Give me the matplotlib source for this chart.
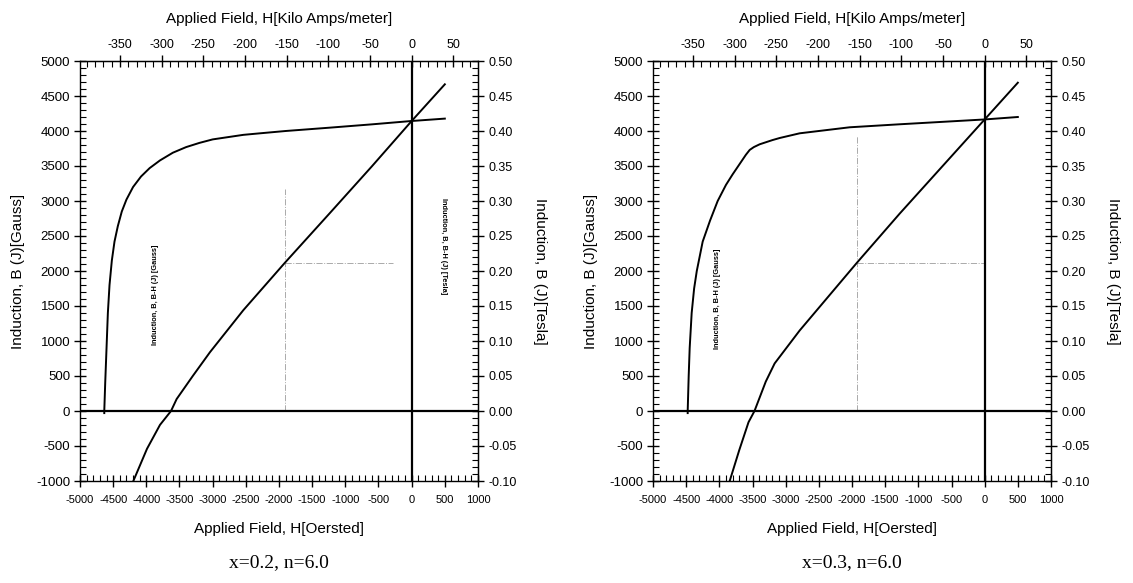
import numpy as np
import matplotlib
matplotlib.use("Agg")
from matplotlib import pyplot as plt
from matplotlib.ticker import MultipleLocator, FormatStrFormatter

plt.rcParams['font.family'] = ['Liberation Sans', 'DejaVu Sans']
plt.rcParams['axes.unicode_minus'] = False

# x=0.2, n=6.0  (H in Oersted, B/J in Gauss)
h_j_a = [-4634, -4634, -4620, -4600, -4580, -4555, -4520, -4480, -4430, -4370, -4300,
         -4200, -4080, -3950, -3794, -3600, -3400, -3200, -3000, -2538, -2286, -1900,
         -1231, -600, 0, 500]
j_a = [-30, 0, 400, 900, 1400, 1800, 2150, 2420, 2640, 2850, 3020,
       3200, 3350, 3470, 3580, 3690, 3770, 3830, 3880, 3945, 3967, 4000,
       4048, 4095, 4143, 4177]
h_bh_a = [-4196, -3990, -3794, -3628, -3543, -3300, -3040, -2538, -1909, -1231, -600, 0, 500]
b_bh_a = [-1000, -540, -198, 0, 171, 500, 841, 1440, 2120, 2830, 3495, 4143, 4667]
bhmax_a = (-1909, 2120)
hline_end_a = -283
vline_top_a = 3170

# x=0.3, n=6.0
h_j_b = [-4477, -4477, -4462, -4447, -4417, -4380, -4340, -4251, -4140, -4025,
         -3900, -3800, -3700, -3600, -3542, -3480, -3392, -3200, -3090, -2789,
         -2035, -1281, 0, 500]
j_b = [-30, 0, 500, 900, 1400, 1750, 2000, 2420, 2720, 3000,
       3230, 3380, 3520, 3660, 3730, 3770, 3810, 3870, 3900, 3967,
       4053, 4096, 4165, 4200]
h_bh_b = [-3844, -3700, -3560, -3470, -3300, -3166, -2789, -1924, -1281, 0, 500]
b_bh_b = [-1000, -560, -160, 0, 420, 680, 1150, 2120, 2820, 4165, 4690]
bhmax_b = (-1924, 2120)
hline_end_b = 0
vline_top_b = 3930

captions = ["x=0.2, n=6.0", "x=0.3, n=6.0"]

OE_TO_KA = 1.0 / (4 * np.pi)   # 1 Oe = 79.58 A/m
G_TO_T = 1e-4


def draw_panel(ax, h_j, j, h_bh, b_bh, bhmax, hline_end, vline_top,
               gauss_pos, tesla_pos):
    ax.set_xlim(-5000, 1000)
    ax.set_ylim(-1000, 5000)

    # zero axes
    ax.axhline(0, color='black', lw=1.6, zorder=3)
    ax.axvline(0, color='black', lw=1.6, zorder=3)

    # BHmax guide lines
    ax.plot([bhmax[0], bhmax[0]], [0, vline_top], color='#aaaaaa', lw=0.7, ls='-.')
    ax.plot([bhmax[0], hline_end], [bhmax[1], bhmax[1]], color='#aaaaaa', lw=0.7, ls='-.')

    ax.plot(h_j, j, color='black', lw=1.4, zorder=4)
    ax.plot(h_bh, b_bh, color='black', lw=1.4, zorder=4)

    ax.xaxis.set_major_locator(MultipleLocator(500))
    ax.xaxis.set_minor_locator(MultipleLocator(100))
    ax.yaxis.set_major_locator(MultipleLocator(500))
    ax.yaxis.set_minor_locator(MultipleLocator(100))
    ax.tick_params(which='major', direction='inout', length=8, width=1)
    ax.tick_params(which='minor', direction='in', length=4, width=0.8)
    ax.tick_params(axis='x', labelsize=8, pad=6)
    ax.tick_params(axis='y', labelsize=9.5, pad=3)
    ax.tick_params(top=False, right=False)
    for s in ax.spines.values():
        s.set_linewidth(1.0)

    ax.set_xlabel("Applied Field, H[Oersted]", fontsize=11, labelpad=12)
    ax.set_ylabel("Induction, B (J)[Gauss]", fontsize=11, labelpad=8)

    top = ax.secondary_xaxis('top', functions=(lambda x: x * OE_TO_KA, lambda x: x / OE_TO_KA))
    top.xaxis.set_major_locator(MultipleLocator(50))
    top.xaxis.set_minor_locator(MultipleLocator(10))
    top.tick_params(which='major', direction='inout', length=8, width=1, labelsize=9)
    top.tick_params(which='minor', direction='in', length=4, width=0.8)
    top.set_xlabel("Applied Field, H[Kilo Amps/meter]", fontsize=11, labelpad=11)

    right = ax.secondary_yaxis('right', functions=(lambda y: y * G_TO_T, lambda y: y / G_TO_T))
    right.yaxis.set_major_locator(MultipleLocator(0.05))
    right.yaxis.set_minor_locator(MultipleLocator(0.01))
    right.yaxis.set_major_formatter(FormatStrFormatter('%.2f'))
    right.tick_params(which='major', direction='inout', length=8, width=1, labelsize=9)
    right.tick_params(which='minor', direction='in', length=4, width=0.8)
    right.set_ylabel("Induction, B (J)[Tesla]", fontsize=11, rotation=270, labelpad=22)

    ax.text(gauss_pos[0], gauss_pos[1], "Induction, B, B-H (J) [Gauss]", rotation=90,
            fontsize=5.3, fontweight='bold', ha='center', va='center')
    if tesla_pos is not None:
        ax.text(tesla_pos[0], tesla_pos[1], "Induction, B, B-H (J) [Tesla]", rotation=270,
                fontsize=5.3, fontweight='bold', ha='center', va='center')


fig = plt.figure(figsize=(11.33, 5.83), dpi=100)
ax1 = fig.add_axes([80 / 1133, 102 / 583, 398 / 1133, 420 / 583])
ax2 = fig.add_axes([653 / 1133, 102 / 583, 398 / 1133, 420 / 583])

draw_panel(ax1, h_j_a, j_a, h_bh_a, b_bh_a, bhmax_a, hline_end_a, vline_top_a,
           (-3869, 1653), (473, 2353))
draw_panel(ax2, h_j_b, j_b, h_bh_b, b_bh_b, bhmax_b, hline_end_b, vline_top_b,
           (-4025, 1596), None)

fig.text(279 / 1133, 20 / 583, captions[0], ha='center', va='center', fontsize=14,
         family=['Liberation Serif', 'DejaVu Serif'])
fig.text(852 / 1133, 20 / 583, captions[1], ha='center', va='center', fontsize=14,
         family=['Liberation Serif', 'DejaVu Serif'])

fig.savefig("out.png", dpi=100)
